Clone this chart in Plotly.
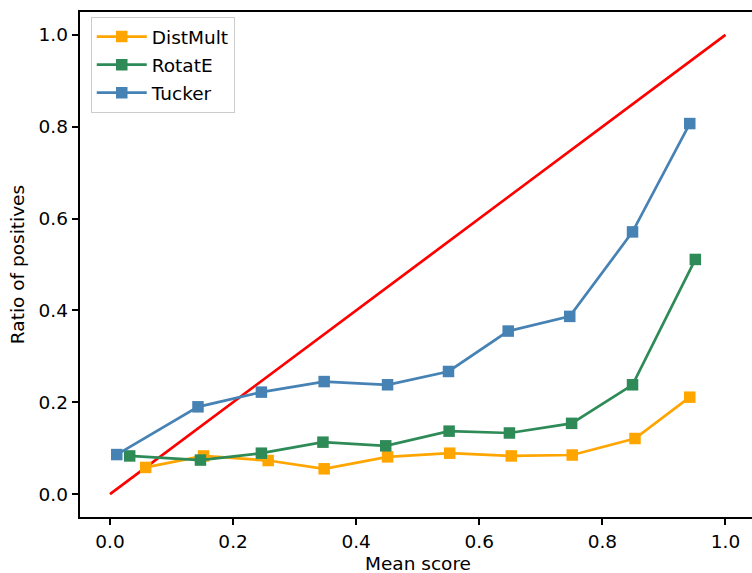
import plotly.graph_objects as go

# Data
distmult_x = [0.058, 0.152, 0.257, 0.348, 0.451, 0.552, 0.652, 0.751, 0.853, 0.942]
distmult_y = [0.058, 0.083, 0.073, 0.055, 0.081, 0.089, 0.083, 0.085, 0.121, 0.211]

rotate_x = [0.032, 0.147, 0.246, 0.346, 0.448, 0.551, 0.649, 0.750, 0.849, 0.951]
rotate_y = [0.083, 0.074, 0.089, 0.113, 0.105, 0.137, 0.133, 0.154, 0.238, 0.511]

tucker_x = [0.011, 0.143, 0.246, 0.348, 0.451, 0.550, 0.647, 0.747, 0.849, 0.942]
tucker_y = [0.086, 0.190, 0.222, 0.245, 0.238, 0.267, 0.355, 0.387, 0.571, 0.807]

diag_x = [0.0, 1.0]
diag_y = [0.0, 1.0]

tick_vals = [0.0, 0.2, 0.4, 0.6, 0.8, 1.0]
tick_text = ["0.0", "0.2", "0.4", "0.6", "0.8", "1.0"]

FONT = "DejaVu Sans"
FS = 18.5

fig = go.Figure()

fig.add_trace(go.Scatter(x=diag_x, y=diag_y, mode="lines",
                         line=dict(color="red", width=2.7), showlegend=False,
                         hoverinfo="skip"))

series = [
    ("DistMult", distmult_x, distmult_y, "#FFA500"),
    ("RotatE", rotate_x, rotate_y, "#2E8B57"),
    ("Tucker", tucker_x, tucker_y, "#4682B4"),
]
for name, xs, ys, col in series:
    fig.add_trace(go.Scatter(
        x=xs, y=ys, mode="lines+markers", name=name, legendgroup=name,
        line=dict(color=col, width=2.7),
        marker=dict(symbol="square", size=11.5, color=col, line=dict(width=0)),
    ))

axis_common = dict(
    showgrid=False, zeroline=False, showline=True, linecolor="black",
    linewidth=1.5, ticks="outside", ticklen=6.6, tickwidth=1.5,
    tickcolor="black", tickvals=tick_vals, ticktext=tick_text,
    tickfont=dict(family=FONT, size=FS, color="black"),
)

fig.update_layout(
    width=752, height=573,
    margin=dict(l=80, r=0, t=12, b=56),
    paper_bgcolor="white", plot_bgcolor="white",
    font=dict(family=FONT, size=FS, color="black"),
    xaxis=dict(range=[-0.0487, 1.0431], mirror=True, **axis_common),
    yaxis=dict(range=[-0.05, 1.05], mirror=False,
               title=dict(text="Ratio of positives",
                          font=dict(family=FONT, size=FS, color="black"),
                          standoff=9),
               **axis_common),
    legend=dict(x=0.016, y=0.99, xanchor="left", yanchor="top",
                bgcolor="rgba(255,255,255,0.8)", bordercolor="#cccccc",
                borderwidth=1, tracegroupgap=1, itemwidth=50,
                font=dict(family=FONT, size=FS, color="black")),
    annotations=[dict(text="Mean score", x=0.5, xref="x", y=0, yref="paper",
                      yanchor="middle", yshift=-46, showarrow=False,
                      font=dict(family=FONT, size=FS, color="black"))],
)

fig.write_html("out.html")
